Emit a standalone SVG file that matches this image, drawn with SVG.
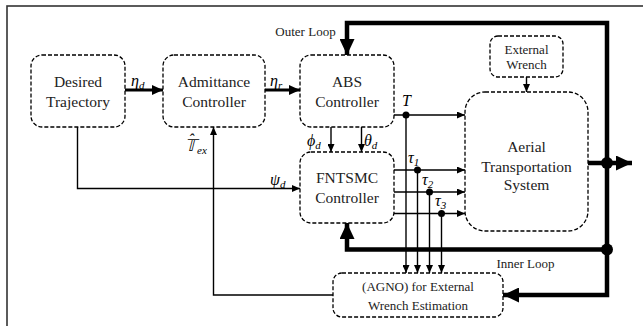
<svg xmlns="http://www.w3.org/2000/svg" width="643" height="326" viewBox="0 0 643 326">
<style>
.box{fill:#fff;stroke:#000;stroke-width:1.3;stroke-dasharray:4 2}
.t{font-family:"Liberation Serif","Times New Roman",serif;font-size:15.5px;fill:#222;text-anchor:middle}
.ts{font-family:"Liberation Serif","Times New Roman",serif;font-size:13px;fill:#222;text-anchor:middle}
.m{font-family:"Liberation Serif","DejaVu Serif",serif;font-style:italic;font-size:16px;fill:#000}
.sub{font-size:11px}
.thin{fill:none;stroke:#000;stroke-width:1.4}
.med{fill:none;stroke:#000;stroke-width:3}
.thick{fill:none;stroke:#000;stroke-width:4.5}
</style>
<defs>
<marker id="as" markerUnits="userSpaceOnUse" markerWidth="8" markerHeight="7" refX="8" refY="3.5" orient="auto"><path d="M0,0 L8,3.5 L0,7 z" fill="#000"/></marker>
<marker id="am" markerUnits="userSpaceOnUse" markerWidth="11" markerHeight="10" refX="11" refY="5" orient="auto"><path d="M0,0 L11,5 L0,10 z" fill="#000"/></marker>
<marker id="al" markerUnits="userSpaceOnUse" markerWidth="16" markerHeight="15" refX="16" refY="7.5" orient="auto"><path d="M0,0 L16,7.5 L0,15 z" fill="#000"/></marker>
</defs>
<rect x="7" y="6" width="700" height="400" fill="#fff" stroke="#333" stroke-width="1.6"/>

<g id="connectors">
<line class="med" x1="125" y1="90" x2="163" y2="90" marker-end="url(#am)"/>
<line class="med" x1="265" y1="90" x2="300" y2="90" marker-end="url(#am)"/>
<polyline class="thin" points="77.5,127 77.5,188.5 300,188.5" marker-end="url(#as)"/>
<polyline class="thin" points="333,295 213.5,295 213.5,127" marker-end="url(#as)"/>
<line class="thin" x1="331" y1="127" x2="331" y2="152" stroke-width="1.8" marker-end="url(#as)"/>
<line class="thin" x1="361.5" y1="127" x2="361.5" y2="152" stroke-width="1.8" marker-end="url(#as)"/>
<line class="thin" x1="394" y1="115" x2="465" y2="115" marker-end="url(#as)"/>
<line class="thin" x1="394" y1="170" x2="465" y2="170" marker-end="url(#as)"/>
<line class="thin" x1="394" y1="192" x2="465" y2="192" marker-end="url(#as)"/>
<line class="thin" x1="394" y1="213.5" x2="465" y2="213.5" marker-end="url(#as)"/>
<line class="thin" x1="406" y1="115" x2="406" y2="273" marker-end="url(#as)"/>
<line class="thin" x1="417.5" y1="170" x2="417.5" y2="273" marker-end="url(#as)"/>
<line class="thin" x1="429.5" y1="192" x2="429.5" y2="273" marker-end="url(#as)"/>
<line class="thin" x1="441.5" y1="213.5" x2="441.5" y2="273" marker-end="url(#as)"/>
<line class="thin" x1="526.5" y1="77" x2="526.5" y2="92" marker-end="url(#as)"/>
<polyline class="thick" points="607,163 607,23 347,23 347,55" marker-end="url(#al)"/>
<line class="thick" x1="588" y1="163" x2="632" y2="163" marker-end="url(#al)"/>
<polyline class="thick" points="607,163 607,295 503,295" marker-end="url(#al)"/>
<polyline class="thick" points="607,249.5 347,249.5 347,223" marker-end="url(#al)"/>
<circle cx="406" cy="115" r="3.5"/>
<circle cx="417.5" cy="170" r="3.5"/>
<circle cx="429.5" cy="192" r="3.5"/>
<circle cx="441.5" cy="213.5" r="3.5"/>
<circle cx="607" cy="163" r="6"/>
<circle cx="607" cy="249.5" r="6"/>
<text class="ts" x="305.5" y="36">Outer Loop</text>
<text class="ts" x="525.5" y="267.5">Inner Loop</text>
<text class="m" x="131" y="86">η<tspan class="sub" dy="3">d</tspan></text>
<text class="m" x="270" y="86">η<tspan class="sub" dy="3">r</tspan></text>
<text class="m" x="307" y="146">ϕ<tspan class="sub" dy="3">d</tspan></text>
<text class="m" x="364" y="146">θ<tspan class="sub" dy="3">d</tspan></text>
<text class="m" x="402" y="106">T</text>
<text class="m" x="408" y="163">τ<tspan class="sub" dy="3">1</tspan></text>
<text class="m" x="422" y="185">τ<tspan class="sub" dy="3">2</tspan></text>
<text class="m" x="435" y="206">τ<tspan class="sub" dy="3">3</tspan></text>
<text class="m" x="270" y="185">ψ<tspan class="sub" dy="3">d</tspan></text>
<text class="m" x="185" y="151" font-style="normal" font-size="15">𝕋<tspan x="188.5" y="145">ˆ</tspan><tspan class="sub" font-style="italic" x="197" y="154">ex</tspan></text>
</g>

<g id="desired">
<rect class="box" x="31" y="55" width="94" height="72" rx="11"/>
<text class="t" x="78" y="87">Desired</text>
<text class="t" x="78" y="107">Trajectory</text>
</g>
<g id="admittance">
<rect class="box" x="163" y="55" width="102" height="72" rx="11"/>
<text class="t" x="214" y="87">Admittance</text>
<text class="t" x="214" y="107">Controller</text>
</g>
<g id="abs">
<rect class="box" x="300" y="55" width="94" height="72" rx="11"/>
<text class="t" x="347" y="87">ABS</text>
<text class="t" x="347" y="107">Controller</text>
</g>
<g id="fntsmc">
<rect class="box" x="300" y="152" width="94" height="71" rx="11"/>
<text class="t" x="347" y="183">FNTSMC</text>
<text class="t" x="347" y="203">Controller</text>
</g>
<g id="external">
<rect class="box" x="490" y="36" width="73" height="41" rx="8"/>
<text class="ts" x="526.5" y="54">External</text>
<text class="ts" x="526.5" y="69">Wrench</text>
</g>
<g id="aerial">
<rect class="box" x="465" y="92" width="123" height="139" rx="20"/>
<text class="t" x="526.5" y="152">Aerial</text>
<text class="t" x="526.5" y="171.5">Transportation</text>
<text class="t" x="526.5" y="190">System</text>
</g>
<g id="agno">
<rect class="box" x="333" y="273" width="170" height="44" rx="9"/>
<text class="ts" x="418" y="291" font-size="14">(AGNO) for External</text>
<text class="ts" x="418" y="310" font-size="14">Wrench Estimation</text>
</g>
</svg>
